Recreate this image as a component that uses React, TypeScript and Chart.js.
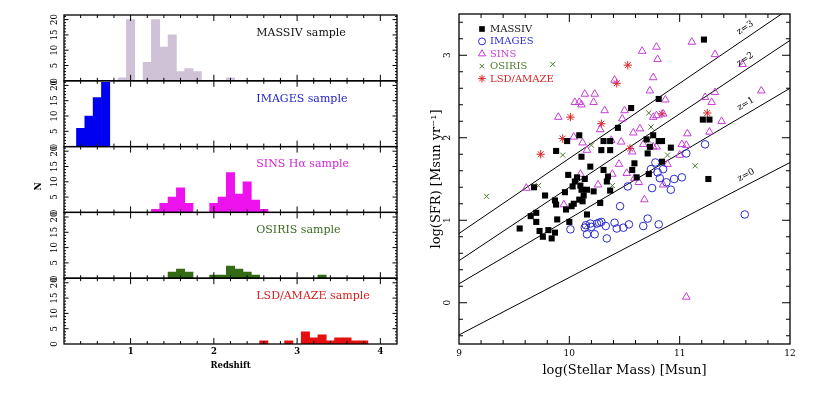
import React, { useEffect, useRef } from 'react';
import { Chart, registerables } from 'chart.js';

Chart.register(...registerables);
Chart.defaults.font.family = 'DejaVu Serif';
Chart.defaults.color = '#000';

// ---------------- Left: redshift histograms ----------------
const massivZ = [0.9, 1.0, 1.2, 1.3, 1.4, 1.5, 1.6, 1.7, 1.8, 2.2];
const massivN = [1, 20, 6, 20, 11, 15, 3, 4, 3, 1];
const imagesZ = [0.4, 0.5, 0.6, 0.7];
const imagesN = [6, 10, 16, 21];
const sinsZ = [1.3, 1.4, 1.5, 1.6, 1.7, 2.0, 2.1, 2.2, 2.3, 2.4, 2.5, 2.6];
const sinsN = [1, 3, 5, 8, 3, 3, 5, 13, 6, 10, 4, 1];
const osirisZ = [1.5, 1.6, 1.7, 2.0, 2.1, 2.2, 2.3, 2.4, 2.5, 3.3];
const osirisN = [2, 3, 2, 1, 1, 4, 3, 2, 1, 1];
const lsdZ = [2.6, 2.9, 3.1, 3.2, 3.3, 3.4, 3.5, 3.6, 3.7, 3.8];
const lsdN = [1, 1, 4, 2, 3, 1, 2, 2, 1, 1];

const panelNames = ['MASSIV sample', 'IMAGES sample', 'SINS Hα sample', 'OSIRIS sample', 'LSD/AMAZE sample'];
const redshiftTicks = [1, 2, 3, 4];
const countTicks = [0, 5, 10, 15, 20];

// ---------------- Right: SFR vs stellar mass ----------------
const massivPts: [number, number][] = [
  [11.22, 3.19], [10.81, 2.47], [10.56, 2.36], [10.44, 2.12], [11.21, 2.22], [11.27, 2.22], [10.09, 2.03],
  [9.98, 1.96], [10.31, 1.96], [10.37, 1.96], [10.70, 1.98], [10.76, 2.03], [10.81, 1.96], [10.84, 1.96],
  [10.92, 1.88], [9.88, 1.84], [10.29, 1.85], [10.37, 1.85], [10.73, 1.89], [10.71, 1.81], [10.11, 1.77],
  [10.84, 1.71], [10.59, 1.69], [10.19, 1.65], [10.31, 1.61], [10.57, 1.61], [9.99, 1.55], [10.35, 1.53],
  [10.61, 1.52], [10.72, 1.56], [10.34, 1.47], [11.26, 1.50], [10.05, 1.47], [10.10, 1.42], [10.03, 1.41],
  [9.68, 1.40], [10.11, 1.37], [10.16, 1.37], [10.22, 1.35], [10.37, 1.36], [9.96, 1.34], [9.78, 1.30],
  [9.87, 1.24], [10.09, 1.25], [10.12, 1.23], [10.28, 1.21], [9.88, 1.19], [10.02, 1.17], [9.97, 1.13],
  [10.16, 1.07], [9.65, 1.05], [9.70, 1.09], [9.70, 0.98], [9.89, 1.01], [10.00, 0.98], [9.55, 0.90],
  [9.73, 0.87], [9.81, 0.88], [9.87, 0.85], [9.76, 0.80], [9.84, 0.78], [10.13, 1.30], [10.04, 1.20],
  [10.07, 1.52], [10.14, 1.50],
];
const imagesPts: [number, number][] = [
  [11.23, 1.92], [11.06, 1.81], [10.78, 1.70], [10.85, 1.62], [10.80, 1.58], [10.74, 1.62], [10.82, 1.51],
  [10.88, 1.46], [10.95, 1.50], [11.02, 1.52], [10.53, 1.41], [10.75, 1.39], [10.92, 1.37], [10.46, 1.17],
  [10.01, 0.89], [10.15, 0.94], [10.16, 0.83], [10.23, 0.83], [10.25, 0.96], [10.29, 0.98], [10.34, 0.78],
  [10.41, 0.97], [10.43, 0.90], [10.49, 0.91], [10.54, 0.95], [10.67, 0.93], [10.71, 1.02], [10.81, 0.95],
  [11.59, 1.07], [10.20, 0.92], [10.19, 0.96], [10.33, 0.93], [10.27, 0.97], [10.14, 0.91],
];
const sinsPts: [number, number][] = [
  [11.11, 3.16], [10.79, 3.10], [10.66, 3.05], [11.32, 3.01], [10.80, 2.95], [11.57, 2.89], [10.76, 2.73],
  [10.41, 2.70], [10.73, 2.57], [11.74, 2.57], [11.32, 2.55], [10.14, 2.53], [10.23, 2.53], [11.23, 2.49],
  [10.87, 2.46], [10.05, 2.43], [10.09, 2.43], [10.11, 2.40], [10.22, 2.43], [11.29, 2.43], [10.32, 2.33],
  [10.50, 2.33], [9.90, 2.25], [10.48, 2.23], [10.76, 2.25], [10.79, 2.27], [10.85, 2.29], [11.38, 2.20],
  [10.64, 2.11], [10.28, 2.10], [10.58, 2.06], [11.27, 2.07], [10.04, 2.01], [11.07, 2.05], [10.12, 1.94],
  [10.38, 1.97], [10.47, 1.95], [10.67, 1.92], [11.02, 1.92], [11.06, 1.91], [10.76, 1.89], [10.79, 1.89],
  [10.16, 1.85], [10.57, 1.83], [11.00, 1.79], [10.89, 1.68], [10.45, 1.68], [10.10, 1.56], [10.39, 1.56],
  [10.52, 1.57], [10.59, 1.51], [10.63, 1.46], [10.26, 1.43], [9.61, 1.39], [10.85, 1.43], [10.68, 1.25],
  [9.95, 1.19], [11.06, 0.07],
];
const osirisPts: [number, number][] = [
  [9.85, 2.89], [10.72, 2.30], [10.74, 2.13], [10.20, 1.91], [10.72, 1.97], [9.94, 1.79], [10.89, 1.79],
  [11.14, 1.66], [10.39, 1.42], [9.72, 1.42], [9.25, 1.29], [10.16, 0.94],
];
const lsdPts: [number, number][] = [
  [10.53, 2.88], [10.43, 2.66], [10.01, 2.25], [10.29, 2.17], [9.94, 1.99], [9.74, 1.80], [10.55, 1.87],
  [10.84, 2.29], [11.25, 2.30],
];

const sampleNames = ['MASSIV', 'IMAGES', 'SINS', 'OSIRIS', 'LSD/AMAZE'];
const zLabels = ['z=0', 'z=1', 'z=2', 'z=3'];
const massRange = [9, 12];
const lineSfrAtMin = [-0.39, 0.23, 0.51, 0.84];
const lineSfrAtMax = [1.70, 2.60, 3.18, 3.57];
const massTicks = [9, 10, 11, 12];
const sfrTicks = [0, 1, 2, 3];

// styles
const histColors = ['#cfc1d6', '#0000f0', '#ee12ee', '#336a14', '#e41010'];
const histTextColors = ['#111111', '#2222c8', '#d424d4', '#3c6a22', '#d82020'];
const sampleStyles = [
  { style: 'rect', color: '#000000', text: '#111111', r: 4.3 },
  { style: 'circle', color: '#2a2ad0', text: '#2a2ad0', r: 3.8 },
  { style: 'triangle', color: '#c83cd8', text: '#c83cd8', r: 4.4 },
  { style: 'crossRot', color: '#4c7a30', text: '#4c7a30', r: 3.6 },
  { style: 'star', color: '#dd2222', text: '#d82020', r: 4.2 },
];

function line(ctx: CanvasRenderingContext2D, x1: number, y1: number, x2: number, y2: number) {
  ctx.beginPath();
  ctx.moveTo(x1, y1);
  ctx.lineTo(x2, y2);
  ctx.stroke();
}

function rotText(ctx: CanvasRenderingContext2D, text: string, x: number, y: number, angle: number) {
  ctx.save();
  ctx.translate(x, y);
  ctx.rotate(angle);
  ctx.fillText(text, 0, 0);
  ctx.restore();
}

function drawSymbol(ctx: CanvasRenderingContext2D, style: string, x: number, y: number, r: number, color: string) {
  ctx.save();
  ctx.strokeStyle = color;
  ctx.fillStyle = color;
  ctx.lineWidth = 1;
  ctx.beginPath();
  if (style === 'rect') {
    const s = r * Math.SQRT1_2;
    ctx.fillRect(x - s, y - s, 2 * s, 2 * s);
  } else if (style === 'circle') {
    ctx.arc(x, y, r, 0, Math.PI * 2);
    ctx.stroke();
  } else if (style === 'triangle') {
    let rad = 0;
    ctx.moveTo(x + Math.sin(rad) * r, y - Math.cos(rad) * r);
    rad += (2 * Math.PI) / 3;
    ctx.lineTo(x + Math.sin(rad) * r, y - Math.cos(rad) * r);
    rad += (2 * Math.PI) / 3;
    ctx.lineTo(x + Math.sin(rad) * r, y - Math.cos(rad) * r);
    ctx.closePath();
    ctx.stroke();
  } else {
    const o = Math.SQRT1_2 * r;
    ctx.moveTo(x - o, y - o); ctx.lineTo(x + o, y + o);
    ctx.moveTo(x - o, y + o); ctx.lineTo(x + o, y - o);
    if (style === 'star') {
      ctx.moveTo(x, y - r); ctx.lineTo(x, y + r);
      ctx.moveTo(x - r, y); ctx.lineTo(x + r, y);
    }
    ctx.stroke();
  }
  ctx.restore();
}

const histZ = [massivZ, imagesZ, sinsZ, osirisZ, lsdZ];
const histN = [massivN, imagesN, sinsN, osirisN, lsdN];

function leftConfig(): any {
  const datasets = histZ.map((zs, i) => ({
    type: 'bar',
    label: panelNames[i],
    data: zs.map((z, j) => ({ x: z, y: histN[i][j] })),
    backgroundColor: histColors[i],
    borderWidth: 0,
    yAxisID: 'p' + i,
    grouped: false,
    categoryPercentage: 1,
    barPercentage: 1,
  }));
  const scales: any = {
    x: {
      type: 'linear',
      position: 'bottom',
      offset: false,
      min: 0.2,
      max: 4.2,
      afterBuildTicks: (s: any) => { s.ticks = redshiftTicks.map((v) => ({ value: v })); },
      afterFit: (s: any) => { s.height = 50; },
      grid: { display: false, drawTicks: false, offset: false },
      border: { display: false },
      ticks: { padding: 3, color: '#000', font: { size: 8.5, weight: 'bold' } },
      title: { display: true, text: 'Redshift', color: '#000', font: { size: 8.5, weight: 'bold' }, padding: { top: 0, bottom: 23 } },
    },
  };
  // stacked axes are laid out bottom-first, so add them from the last panel up
  for (let i = histZ.length - 1; i >= 0; i--) {
    scales['p' + i] = {
      type: 'linear',
      position: 'left',
      stack: 'hist',
      stackWeight: 1,
      min: 0,
      max: 21.5,
      afterBuildTicks: (s: any) => { s.ticks = countTicks.map((v) => ({ value: v })); },
      afterFit: (s: any) => { s.width = 64; },
      grid: { display: false, drawTicks: false },
      border: { display: false },
      ticks: { display: false },
    };
  }
  const framePlugin = {
    id: 'leftFrame',
    afterDraw(chart: any) {
      const ctx: CanvasRenderingContext2D = chart.ctx;
      const xs = chart.scales.x;
      const { left, right, top, bottom } = chart.chartArea;
      ctx.save();
      ctx.strokeStyle = '#000';
      histZ.forEach((_, i) => {
        const ys = chart.scales['p' + i];
        ctx.lineWidth = 1.3;
        ctx.strokeRect(left, ys.top, right - left, ys.bottom - ys.top);
        ctx.lineWidth = 1;
        for (let k = 2; k <= 20; k++) {
          const v = k * 0.2;
          const px = xs.getPixelForValue(v);
          const major = Math.abs(v - Math.round(v)) < 1e-6;
          const len = major ? 6 : 3;
          line(ctx, px, ys.bottom, px, ys.bottom - len);
          line(ctx, px, ys.top, px, ys.top + len);
        }
        for (let v = 1; v <= 21; v++) {
          const py = ys.getPixelForValue(v);
          const len = v % 5 === 0 ? 4.5 : 2;
          line(ctx, left, py, left + len, py);
          line(ctx, right, py, right - len, py);
        }
        ctx.fillStyle = '#000';
        ctx.font = '8.5px "DejaVu Serif"';
        ctx.textAlign = 'center';
        ctx.textBaseline = 'middle';
        countTicks.forEach((v) => rotText(ctx, String(v), left - 9, ys.getPixelForValue(v), -Math.PI / 2));
        ctx.fillStyle = histTextColors[i];
        ctx.font = '11px "DejaVu Serif"';
        ctx.textAlign = 'left';
        ctx.fillText(panelNames[i], xs.getPixelForValue(2.51), ys.top + 18);
      });
      ctx.fillStyle = '#000';
      ctx.font = 'bold 9px "DejaVu Serif"';
      ctx.textAlign = 'center';
      ctx.textBaseline = 'middle';
      rotText(ctx, 'N', left - 25, (top + bottom) / 2 + 7, -Math.PI / 2);
      ctx.restore();
    },
  };
  return {
    type: 'bar',
    data: { datasets },
    options: {
      animation: false,
      responsive: false,
      devicePixelRatio: 1,
      layout: { padding: { left: 0, top: 15, right: 13, bottom: 0 } },
      plugins: { legend: { display: false }, tooltip: { enabled: false } },
      scales,
    },
    plugins: [framePlugin],
  };
}

const samplePts = [massivPts, imagesPts, sinsPts, osirisPts, lsdPts];

function rightConfig(): any {
  const scatterSets = samplePts.map((pts, i) => ({
    type: 'scatter',
    label: sampleNames[i],
    data: pts.map(([x, y]) => ({ x, y })),
    pointStyle: sampleStyles[i].style,
    pointRadius: sampleStyles[i].r,
    borderWidth: sampleStyles[i].style === 'rect' ? 0 : 1,
    borderColor: sampleStyles[i].color,
    backgroundColor: sampleStyles[i].style === 'rect' ? sampleStyles[i].color : 'rgba(0,0,0,0)',
  }));
  const lineSets = zLabels.map((lab, i) => ({
    type: 'line',
    label: lab,
    data: [
      { x: massRange[0], y: lineSfrAtMin[i] },
      { x: massRange[1], y: lineSfrAtMax[i] },
    ],
    borderColor: '#000',
    borderWidth: 1,
    pointRadius: 0,
    fill: false,
  }));
  const framePlugin = {
    id: 'rightFrame',
    afterDraw(chart: any) {
      const ctx: CanvasRenderingContext2D = chart.ctx;
      const xs = chart.scales.x;
      const ys = chart.scales.y;
      const { left, right, top, bottom } = chart.chartArea;
      ctx.save();
      ctx.strokeStyle = '#000';
      ctx.lineWidth = 1.3;
      ctx.strokeRect(left, top, right - left, bottom - top);
      ctx.lineWidth = 1;
      for (let k = 46; k <= 59; k++) {
        const v = k * 0.2;
        const px = xs.getPixelForValue(v);
        const major = Math.abs(v - Math.round(v)) < 1e-6;
        const len = major ? 8 : 4;
        line(ctx, px, bottom, px, bottom - len);
        line(ctx, px, top, px, top + len);
      }
      for (let k = -2; k <= 17; k++) {
        const v = k * 0.2;
        const py = ys.getPixelForValue(v);
        const major = Math.abs(v - Math.round(v)) < 1e-6;
        const len = major ? 8 : 4;
        line(ctx, left, py, left + len, py);
        line(ctx, right, py, right - len, py);
      }
      ctx.fillStyle = '#000';
      ctx.font = '9px "DejaVu Serif"';
      ctx.textAlign = 'center';
      ctx.textBaseline = 'middle';
      sfrTicks.forEach((v) => rotText(ctx, String(v), left - 11, ys.getPixelForValue(v), -Math.PI / 2));

      // line labels
      ctx.font = '9px "DejaVu Serif"';
      zLabels.forEach((lab, i) => {
        const x1 = xs.getPixelForValue(massRange[0]);
        const y1 = ys.getPixelForValue(lineSfrAtMin[i]);
        const x2 = xs.getPixelForValue(massRange[1]);
        const y2 = ys.getPixelForValue(lineSfrAtMax[i]);
        const th = Math.atan2(y2 - y1, x2 - x1);
        const xl = 11.64;
        const f = (xl - massRange[0]) / (massRange[1] - massRange[0]);
        const px = xs.getPixelForValue(xl);
        const py = ys.getPixelForValue(lineSfrAtMin[i] + (lineSfrAtMax[i] - lineSfrAtMin[i]) * f);
        const off = 9;
        rotText(ctx, lab, px + Math.sin(th) * off, py - Math.cos(th) * off, th);
      });

      // legend
      ctx.font = '10px "DejaVu Serif"';
      ctx.textAlign = 'left';
      sampleNames.forEach((name, i) => {
        const y = top + 15 + i * 12.4;
        drawSymbol(ctx, sampleStyles[i].style, left + 23, y, sampleStyles[i].r - 0.3, sampleStyles[i].color);
        ctx.fillStyle = sampleStyles[i].text;
        ctx.fillText(name, left + 31, y + 0.5);
      });
      ctx.restore();
    },
  };
  return {
    type: 'scatter',
    data: { datasets: [...scatterSets, ...lineSets] },
    options: {
      animation: false,
      responsive: false,
      devicePixelRatio: 1,
      layout: { padding: { left: 0, top: 14, right: 28, bottom: 0 } },
      plugins: { legend: { display: false }, tooltip: { enabled: false } },
      scales: {
        x: {
          type: 'linear',
          min: massRange[0],
          max: massRange[1],
          afterBuildTicks: (s: any) => { s.ticks = massTicks.map((v) => ({ value: v })); },
          afterFit: (s: any) => { s.height = 50; },
          grid: { display: false, drawTicks: false },
          border: { display: false },
          ticks: { padding: 4, color: '#000', font: { size: 9 } },
          title: { display: true, text: 'log(Stellar Mass) [Msun]', color: '#000', font: { size: 13 }, padding: { top: 0, bottom: 16 } },
        },
        y: {
          type: 'linear',
          min: -0.5,
          max: 3.5,
          afterBuildTicks: (s: any) => { s.ticks = sfrTicks.map((v) => ({ value: v })); },
          afterFit: (s: any) => { s.width = 49; },
          grid: { display: false, drawTicks: false },
          border: { display: false },
          ticks: { display: false },
          title: { display: true, text: 'log(SFR) [Msun yr⁻¹]', color: '#000', font: { size: 13 }, padding: { top: 19, bottom: 0 } },
        },
      },
    },
    plugins: [framePlugin],
  };
}

export default function App() {
  const leftRef = useRef<HTMLCanvasElement>(null);
  const rightRef = useRef<HTMLCanvasElement>(null);
  useEffect(() => {
    const c1 = new Chart(leftRef.current as HTMLCanvasElement, leftConfig());
    const c2 = new Chart(rightRef.current as HTMLCanvasElement, rightConfig());
    return () => {
      c1.destroy();
      c2.destroy();
    };
  }, []);
  return (
    <div style={{ position: 'fixed', left: 0, top: 0, width: 818, height: 394, background: '#fff' }}>
      <canvas ref={leftRef} width={410} height={394} style={{ position: 'absolute', left: 0, top: 0 }} />
      <canvas ref={rightRef} width={408} height={394} style={{ position: 'absolute', left: 410, top: 0 }} />
    </div>
  );
}
